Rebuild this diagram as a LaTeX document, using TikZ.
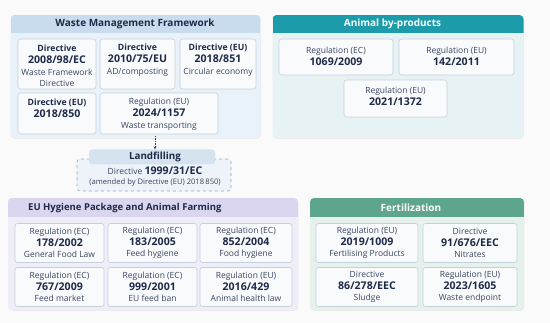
\documentclass[tikz,border=0pt]{standalone}
\usepackage{fontspec}
\setmainfont{Open Sans}
\usetikzlibrary{shadows,arrows.meta}
\definecolor{pagebg}{HTML}{FAFAFA}
\definecolor{p1bg}{HTML}{E9F1F9}
\definecolor{p1hd}{HTML}{C9DBEE}
\definecolor{p2bg}{HTML}{E7F2F5}
\definecolor{p2hd}{HTML}{1C9BAB}
\definecolor{p3bg}{HTML}{EFEEF8}
\definecolor{p3hd}{HTML}{DAD6EF}
\definecolor{p4bg}{HTML}{E6F1EC}
\definecolor{p4hd}{HTML}{5EA58E}
\definecolor{boxfill}{HTML}{F8FAFC}
\definecolor{boxline}{HTML}{C3D0DD}
\definecolor{txt}{HTML}{1E2A48}
\definecolor{txtl}{HTML}{3A4560}
\definecolor{lfhd}{HTML}{D5E2EF}
\definecolor{lfline}{HTML}{8FA8C6}
\definecolor{lfbg}{HTML}{EEF3F9}
\newcommand\nbig[1]{{\fontsize{10.6}{11.5}\selectfont\bfseries\color{txt}#1}}
\newcommand\nsm[1]{{\fontsize{8.7}{11.5}\selectfont\bfseries\color{txt}#1}}
\begin{document}
\begin{tikzpicture}[x=1pt,y=-1pt,
  panel/.style={rounded corners=4pt, draw=none, drop shadow={opacity=0.12, shadow xshift=0.4pt, shadow yshift=-0.8pt}},
  regb/.style={draw=boxline, fill=boxfill, rounded corners=2.5pt, line width=0.6pt, inner sep=0pt},
  regt/.style={align=center, inner sep=0pt, text=txtl, font=\fontsize{8.5}{11.5}\selectfont},
  regtw/.style={regt, font=\fontsize{8.5}{12.2}\selectfont},
  hdt/.style={inner sep=0pt, font=\fontsize{10}{12}\selectfont\bfseries},
]
\useasboundingbox[fill=pagebg] (0,0) rectangle (550,323);

% ---------- Panel 1 ----------
\node[panel, fill=p1bg, minimum width=250pt, minimum height=123pt] (p1) at (135.5,76.5) {};
\begin{scope}
  \clip[rounded corners=4pt] (10.5,15) rectangle (260.5,138);
  \fill[p1hd] (10.5,15) rectangle (260.5,33);
\end{scope}
\node[hdt, text=txt] (p1h) at (135,24) {Waste Management Framework};

\node[regb, minimum width=78pt, minimum height=50pt] (a1) at (57,64) {};
\node[regb, minimum width=75pt, minimum height=50pt] (a2) at (137.5,64) {};
\node[regb, minimum width=76pt, minimum height=50pt] (a3) at (218,64) {};
\node[regb, minimum width=78pt, minimum height=41pt] (a4) at (57,113.5) {};
\node[regb, minimum width=118pt, minimum height=41pt] (a5) at (159,113.5) {};
\node[regtw] (a1t) at (57,65.5) {\nsm{Directive}\\\nbig{2008/98/EC}\\Waste Framework\\[-2pt]Directive};
\node[regtw] (a2t) at (137.5,60.5) {\nsm{Directive}\\\nbig{2010/75/EU}\\AD/composting};
\node[regtw] (a3t) at (218,60.5) {\nsm{Directive (EU)}\\\nbig{2018/851}\\Circular economy};
\node[regtw] (a4t) at (57,108) {\nsm{Directive (EU)}\\\nbig{2018/850}};
\node[regtw] (a5t) at (159,114) {Regulation (EU)\\\nbig{2024/1157}\\Waste transporting};

% ---------- Panel 2 ----------
\node[panel, fill=p2bg, minimum width=251pt, minimum height=123pt] (p2) at (398,76.5) {};
\begin{scope}
  \clip[rounded corners=4pt] (272.5,15) rectangle (523.5,138);
  \fill[p2hd] (272.5,15) rectangle (523.5,33);
\end{scope}
\node[hdt, text=white] (p2h) at (392.5,24) {Animal by-products};
\node[regb, minimum width=114pt, minimum height=36pt] (b1) at (336,57) {};
\node[regb, minimum width=115pt, minimum height=36pt] (b2) at (456.5,57) {};
\node[regb, minimum width=103pt, minimum height=37pt] (b3) at (395.5,98.5) {};
\node[regtw] (b1t) at (336,56) {Regulation (EC)\\\nbig{1069/2009}};
\node[regtw] (b2t) at (456.5,56) {Regulation (EU)\\\nbig{142/2011}};
\node[regtw] (b3t) at (395.5,96.5) {Regulation (EU)\\\nbig{2021/1372}};

% ---------- Landfilling ----------
\node[draw=lfline, dashed, fill=lfbg, rounded corners=3pt, line width=0.6pt, minimum width=154pt, minimum height=32pt] (lf) at (154,175) {};
\node[fill=lfhd, rounded corners=3pt, minimum width=126pt, minimum height=15pt, inner sep=0pt] (lfh) at (152,157) {};
\node[hdt, text=txt, font=\fontsize{9.8}{12}\selectfont\bfseries] (lfht) at (155,157) {Landfilling};
\node[regt] (lft1) at (155,171) {Directive \nbig{1999/31/EC}};
\node[regt, font=\fontsize{7.6}{9}\selectfont] (lft2) at (155,183) {(amended by Directive (EU) 2018\,850)};
\coordinate (arrStart) at (155,136);
\draw[densely dotted, line width=0.7pt, draw=txtl, -{Stealth[length=3pt,width=3pt]}] (arrStart) -- (arrStart |- lfh.north);

% ---------- Panel 3 ----------
\node[panel, fill=p3bg, minimum width=290pt, minimum height=112pt] (p3) at (153,254) {};
\begin{scope}
  \clip[rounded corners=4pt] (8,198) rectangle (298,310);
  \fill[p3hd] (8,198) rectangle (298,217);
\end{scope}
\node[hdt, text=txt, anchor=west, font=\fontsize{9.5}{12}\selectfont\bfseries] (p3h) at (28,208) {EU Hygiene Package and Animal Farming};
\foreach \nm/\cx/\cy/\w/\ta/\tb/\tc in {
  c1/59.5/243/89/Regulation (EC)/178\slash 2002/General Food Law,
  c2/152.5/243/89/Regulation (EC)/183\slash 2005/Feed hygiene,
  c3/246/243/92/Regulation (EC)/852\slash 2004/Food hygiene,
  c4/59.5/287/89/Regulation (EC)/767\slash 2009/Feed market,
  c5/152.5/287/89/Regulation (EC)/999\slash 2001/EU feed ban,
  c6/246/287/92/Regulation (EU)/2016\slash 429/Animal health law}{
  \node[regb, minimum width=\w pt, minimum height=39pt] (\nm) at (\cx,\cy) {};
  \node[regt] (\nm t) at (\cx,\cy) {\ta\\\nbig{\tb}\\\tc};
}

% ---------- Panel 4 ----------
\node[panel, fill=p4bg, minimum width=214pt, minimum height=112pt] (p4) at (417,254) {};
\begin{scope}
  \clip[rounded corners=4pt] (310,198) rectangle (524,310);
  \fill[p4hd] (310,198) rectangle (524,217);
\end{scope}
\node[hdt, text=white] (p4h) at (411,208) {Fertilization};
\foreach \nm/\cx/\cy/\w/\ta/\tb/\tc in {
  d1/367/243/102/Regulation (EU)/2019\slash 1009/Fertilising Products,
  d2/470/243/94/Directive/91\slash 676\slash EEC/Nitrates,
  d3/367/287/102/Directive/86\slash 278\slash EEC/Sludge,
  d4/470/287/94/Regulation (EU)/2023\slash 1605/Waste endpoint}{
  \node[regb, minimum width=\w pt, minimum height=39pt] (\nm) at (\cx,\cy) {};
  \node[regt] (\nm t) at (\cx,\cy) {\ta\\\nbig{\tb}\\\tc};
}
\end{tikzpicture}
\end{document}
